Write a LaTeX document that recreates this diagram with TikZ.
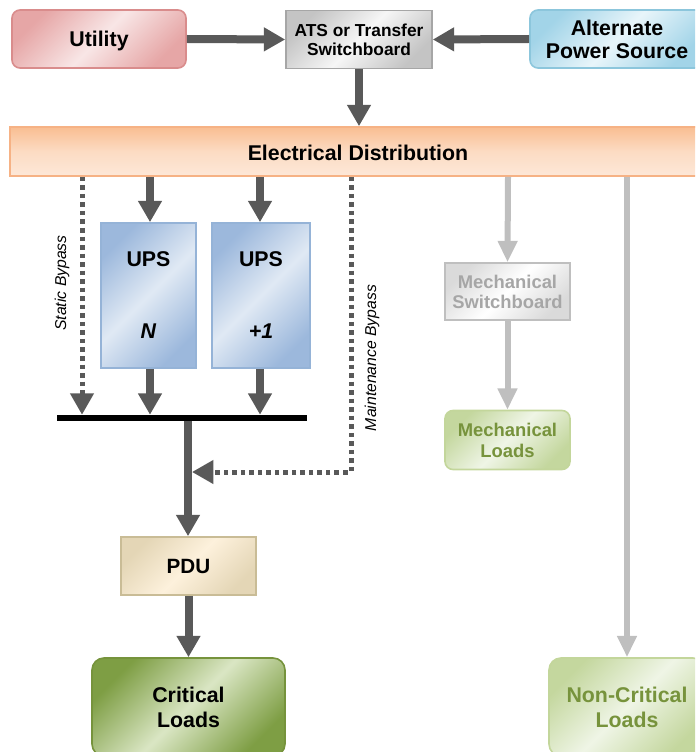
\documentclass[tikz,border=0pt]{standalone}
\usepackage{fontspec}
\setmainfont{Liberation Sans}
\usetikzlibrary{arrows.meta,shadings}
\definecolor{darkarrow}{HTML}{595959}
\definecolor{lightarrow}{HTML}{BFBFBF}
\definecolor{utilA}{HTML}{E6A6A6}
\definecolor{utilB}{HTML}{F8E6E6}
\definecolor{utilD}{HTML}{D98C8C}
\definecolor{atsA}{HTML}{C4C4C4}
\definecolor{atsB}{HTML}{F6F6F6}
\definecolor{atsD}{HTML}{A6A6A6}
\definecolor{altA}{HTML}{A2D4E8}
\definecolor{altB}{HTML}{E8F5FA}
\definecolor{altD}{HTML}{8CC6DC}
\definecolor{elecA}{HTML}{F9BE92}
\definecolor{elecB}{HTML}{FDE8D8}
\definecolor{elecD}{HTML}{F6B285}
\definecolor{upsA}{HTML}{9CB8DC}
\definecolor{upsB}{HTML}{E0E9F4}
\definecolor{upsD}{HTML}{95B3D7}
\definecolor{pduA}{HTML}{E4D6B6}
\definecolor{pduB}{HTML}{FDF1DC}
\definecolor{pduD}{HTML}{C9BC96}
\definecolor{critA}{HTML}{7E9E44}
\definecolor{critB}{HTML}{DAE6C4}
\definecolor{critD}{HTML}{76933C}
\definecolor{ncA}{HTML}{C4D79E}
\definecolor{ncB}{HTML}{EFF5E6}
\definecolor{ncD}{HTML}{C3D69B}
\definecolor{ncText}{HTML}{77933C}
\definecolor{msA}{HTML}{DADADA}
\definecolor{msB}{HTML}{FFFFFF}
\definecolor{msD}{HTML}{BFBFBF}
\definecolor{msText}{HTML}{A6A6A6}
\tikzset{
  box/.style={draw, line width=1.2pt, inner sep=0pt, align=center, text depth=0pt, font=\bfseries},
  grad/.style 2 args={top color=#1, bottom color=#1, middle color=#2, shading angle=45},
  darr/.style={draw=darkarrow, line width=6pt, -{Triangle[length=16pt,width=17pt]}},
  larr/.style={draw=lightarrow, line width=4.5pt, -{Triangle[length=16pt,width=14pt]}},
  dotarr/.style={draw=darkarrow, line width=3.75pt, dash pattern=on 3.4pt off 3pt, -{Triangle[length=16pt,width=17pt]}},
  bigfont/.style={font=\fontsize{16}{17.5}\selectfont\bfseries},
}
\begin{document}
\begin{tikzpicture}[x=0.75pt,y=-0.75pt]
\useasboundingbox (0,0) rectangle (695,752);
\begin{scope}
\clip (0,0) rectangle (695,752);
% top row
\node[box, rounded corners=6pt, grad={utilA}{utilB}, draw=utilD, minimum width=130.5pt, minimum height=43.5pt, bigfont] (util) at (99,39) {Utility};
\node[box, grad={atsA}{atsB}, draw=atsD, minimum width=109.5pt, minimum height=43.5pt, font=\fontsize{13}{14.25}\selectfont\bfseries] (ats) at (359,39.5) {ATS or Transfer\\Switchboard};
\node[box, rounded corners=6pt, grad={altA}{altB}, draw=altD, minimum width=130.5pt, minimum height=43.5pt, bigfont] (alt) at (617,39) {Alternate\\Power Source};
% electrical distribution
\node[box, top color=elecA, bottom color=elecB, middle color=elecB!70!elecA, draw=elecD, minimum width=522pt, minimum height=36.75pt] (elec) at (358,151.5) {};
\node[bigfont] (eleclab) at (358,153) {Electrical Distribution};
% UPS
\node[box, grad={upsA}{upsB}, draw=upsD, minimum width=71.25pt, minimum height=108.75pt, font=\fontsize{16}{19}\selectfont\bfseries] (upsn) at (148.5,295.5) {UPS\\[35pt]\textit{N}};
\node[box, grad={upsA}{upsB}, draw=upsD, minimum width=73.5pt, minimum height=108.75pt, font=\fontsize{16}{19}\selectfont\bfseries] (upsp) at (261,295.5) {UPS\\[35pt]\textit{+1}};
% bus
\node[fill=black, minimum width=187.5pt, minimum height=4.5pt, inner sep=0pt] (bus) at (182,418) {};
% PDU
\node[box, grad={pduA}{pduB}, draw=pduD, minimum width=101.25pt, minimum height=43.5pt, font=\fontsize{15.5}{17}\selectfont\bfseries] (pdu) at (188.5,566) {PDU};
\node[box, rounded corners=9pt, grad={critA}{critB}, draw=critD, minimum width=144.75pt, minimum height=73.5pt, font=\fontsize{16}{18.75}\selectfont\bfseries] (crit) at (188.5,707) {Critical\\Loads};
% mechanical
\node[box, grad={msA}{msB}, draw=msD, text=msText, minimum width=93.75pt, minimum height=42.75pt, font=\fontsize{13.8}{15}\selectfont\bfseries] (msw) at (507.5,291.5) {Mechanical\\Switchboard};
\node[box, rounded corners=6pt, grad={ncA}{ncB}, draw=ncD, text=ncText, minimum width=93.75pt, minimum height=44.25pt, font=\fontsize{13.8}{15.5}\selectfont\bfseries] (mld) at (507.5,440) {Mechanical\\Loads};
\node[box, rounded corners=9pt, grad={ncA}{ncB}, draw=ncD, text=ncText, minimum width=117pt, minimum height=73.5pt, font=\fontsize{16}{18.75}\selectfont\bfseries] (ncl) at (627,707) {Non-Critical\\Loads};
% connectors top
\draw[darr] (util.east) -- (ats.west);
\draw[darr] (alt.west) -- (ats.east);
\draw[darr] (ats.south) -- (ats.south |- elec.north);
% to UPS
\draw[darr] (150,0 |- elec.south) -- (150,0 |- upsn.north);
\draw[darr] (260,0 |- elec.south) -- (260,0 |- upsp.north);
\draw[darr] (150,0 |- upsn.south) -- (150,0 |- bus.north);
\draw[darr] (260,0 |- upsp.south) -- (260,0 |- bus.north);
% static bypass
\coordinate (sb) at (82,0);
\draw[dotarr] (sb |- elec.south) -- (sb |- bus.north);
\node[rotate=90, font=\fontsize{11.8}{13}\selectfont\itshape] (sblab) at (62,283) {Static Bypass};
% bus to PDU
\coordinate (bt) at (188,0);
\draw[darr] (bt |- bus.south) -- (bt |- pdu.north);
% maintenance bypass
\coordinate (mb) at (351,472);
\coordinate (mbe) at (192,472);
\draw[dotarr] (mb |- elec.south) -- (mb) -- (mbe);
\node[rotate=90, font=\fontsize{11.8}{13}\selectfont\itshape] (mblab) at (372,358) {Maintenance Bypass};
% PDU to critical
\draw[darr] (pdu.south) -- (crit.north);
% mechanical
\draw[larr] (508,0 |- elec.south) -- (msw.north);
\draw[larr] (msw.south) -- (mld.north);
\draw[larr] (ncl.north |- elec.south) -- (ncl.north);
\end{scope}
\end{tikzpicture}
\end{document}
